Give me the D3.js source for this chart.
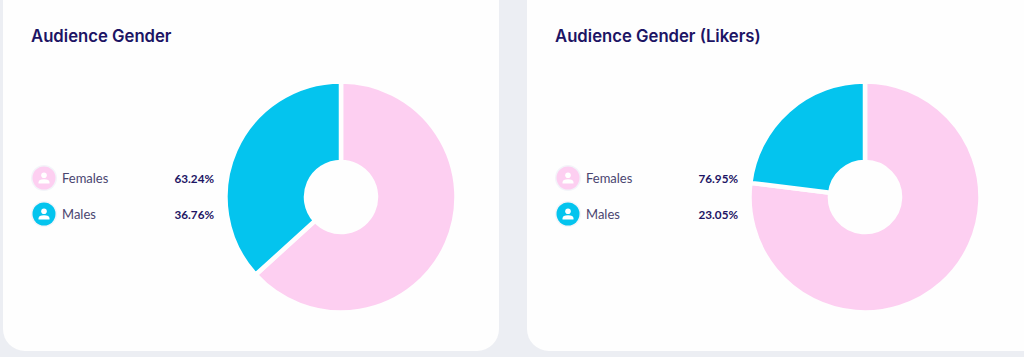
<!DOCTYPE html>
<html>
<head>
<meta charset="utf-8">
<script src="https://cdn.jsdelivr.net/npm/d3@7"></script>
<style>
html, body { margin: 0; padding: 0; background: #eceef3; overflow: hidden; }
text { font-family: Lato, sans-serif; }
</style>
</head>
<body>
<div id="chart"></div>
<script>
var panelTitles = ["Audience Gender", "Audience Gender (Likers)"];
var genders = ["Females", "Males"];
var allValues = [63.24, 36.76];
var likerValues = [76.95, 23.05];

var colors = d3.scaleOrdinal().domain(genders).range(["#fdcff1", "#04c4ee"]);

var svg = d3.select("#chart")
    .append("svg")
    .attr("width", 1024)
    .attr("height", 357)
    .style("display", "block");

function genderPanel(title, values, left, cardWidth) {
    var g = svg.append("g").attr("transform", "translate(" + left + ",0)");

    // card runs off the top of the picture
    g.append("rect")
        .attr("x", 0)
        .attr("y", -30)
        .attr("width", cardWidth)
        .attr("height", 381)
        .attr("rx", 22)
        .attr("fill", "#fefefe");

    g.append("text")
        .attr("x", 28)
        .attr("y", 42)
        .attr("font-size", 16.7)
        .attr("font-weight", 600)
        .attr("fill", "#1c1464")
        .style("font-family", "Inter, sans-serif")
        .text(title);

    // legend rows
    var rowY = d3.scalePoint().domain(genders).range([178, 214]);

    var rows = g.selectAll(".row")
        .data(genders)
        .enter().append("g")
        .attr("class", "row")
        .attr("transform", function(d) { return "translate(0," + rowY(d) + ")"; });

    rows.append("circle")
        .attr("cx", 41)
        .attr("r", 13)
        .attr("fill", "#f3f4f9");

    rows.append("circle")
        .attr("cx", 41)
        .attr("r", 11.5)
        .attr("fill", function(d) { return colors(d); });

    rows.append("circle")
        .attr("cx", 41)
        .attr("cy", -2.8)
        .attr("r", 2.8)
        .attr("fill", "#fff");

    rows.append("path")
        .attr("d", "M35.5 5.5 v-1 q0 -3.2 5.5 -3.2 q5.5 0 5.5 3.2 v1 z")
        .attr("fill", "#fff");

    rows.append("text")
        .attr("x", 59)
        .attr("y", 4.5)
        .attr("font-size", 13)
        .attr("fill", "#4a4570")
        .text(function(d) { return d; });

    rows.append("text")
        .attr("x", 211)
        .attr("y", 4.5)
        .attr("text-anchor", "end")
        .attr("font-size", 11.7)
        .attr("font-weight", 700)
        .attr("fill", "#1c1464")
        .text(function(d, i) { return values[i].toFixed(2) + "%"; });

    // donut, starts at twelve o'clock going clockwise
    var pie = d3.pie().sort(null);
    var arc = d3.arc().innerRadius(35).outerRadius(115.5);

    g.append("g")
        .attr("transform", "translate(338,197)")
        .selectAll("path")
        .data(pie(values))
        .enter().append("path")
        .attr("d", arc)
        .attr("fill", function(d, i) { return colors(genders[i]); })
        .attr("stroke", "#fefefe")
        .attr("stroke-width", 4.5);
}

genderPanel(panelTitles[0], allValues, 3, 496);
genderPanel(panelTitles[1], likerValues, 527, 530);
</script>
</body>
</html>
